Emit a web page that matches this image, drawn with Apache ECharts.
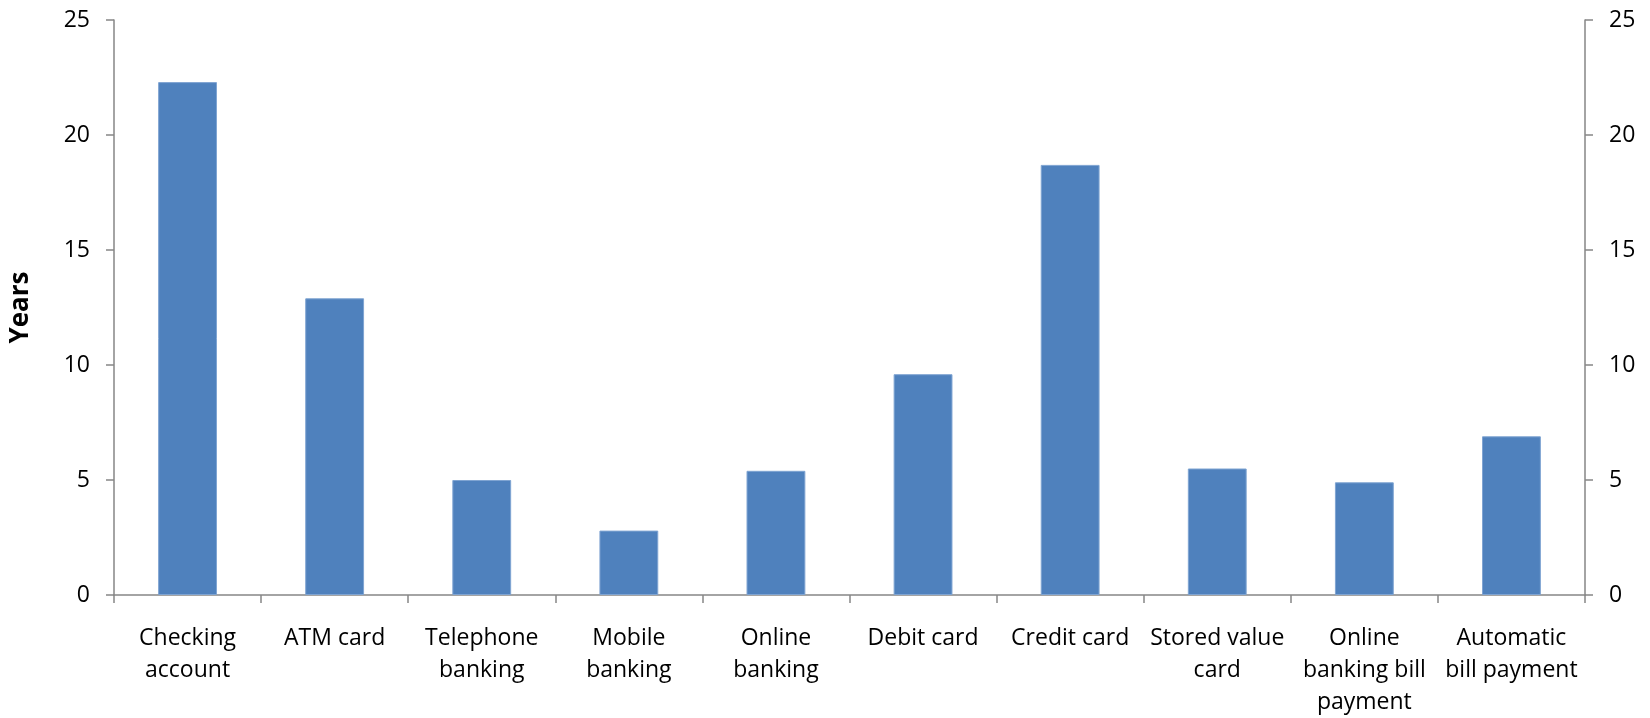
<!DOCTYPE html>
<html>
<head>
<meta charset="utf-8">
<script src="https://cdn.jsdelivr.net/npm/echarts@6/dist/echarts.min.js"></script>
<style>
  html, body { margin: 0; padding: 0; background: #ffffff; }
  #chart { width: 1650px; height: 718px; }
</style>
</head>
<body>
<div id="chart"></div>
<script>
// Product categories (line breaks are the wrapped axis labels)
const categories = [
  'Checking\naccount',
  'ATM card',
  'Telephone\nbanking',
  'Mobile\nbanking',
  'Online\nbanking',
  'Debit card',
  'Credit card',
  'Stored value\ncard',
  'Online\nbanking bill\npayment',
  'Automatic\nbill payment'
];

// Years of use per product
const years = [22.3, 12.9, 5.0, 2.8, 5.4, 9.6, 18.7, 5.5, 4.9, 6.9];

// Value axis range
const yMin = 0;
const yMax = 25;
const yStep = 5;

const axisGray = '#868686';
const fontFamily = '"Open Sans", "Liberation Sans", sans-serif';

const valueAxis = (position) => ({
  type: 'value',
  position: position,
  min: yMin,
  max: yMax,
  interval: yStep,
  splitLine: { show: false },
  axisLine: { show: true, lineStyle: { color: axisGray, width: 1.5 } },
  axisTick: { show: true, inside: false, length: 8, lineStyle: { color: axisGray, width: 1.5 } },
  axisLabel: { color: '#000000', fontSize: 23, fontFamily: fontFamily, margin: 24 }
});

const chart = echarts.init(document.getElementById('chart'), null, { renderer: 'canvas' });

chart.setOption({
  backgroundColor: '#ffffff',
  animation: false,
  grid: { left: 114, right: 65, top: 20, bottom: 119, containLabel: false },
  xAxis: {
    type: 'category',
    data: categories,
    boundaryGap: true,
    axisLine: { show: true, lineStyle: { color: axisGray, width: 1.5 } },
    axisTick: { show: true, alignWithLabel: false, length: 8, lineStyle: { color: axisGray, width: 1.5 } },
    axisLabel: {
      interval: 0,
      color: '#000000',
      fontSize: 23,
      lineHeight: 32,
      fontFamily: fontFamily,
      margin: 27,
      align: 'center'
    }
  },
  yAxis: [
    Object.assign(valueAxis('left'), {
      name: 'Years',
      nameLocation: 'middle',
      nameGap: 80,
      nameRotate: 90,
      nameTextStyle: { color: '#000000', fontSize: 26, fontWeight: 'bold', fontFamily: fontFamily }
    }),
    valueAxis('right')
  ],
  series: [{
    type: 'bar',
    data: years,
    yAxisIndex: 0,
    barWidth: '40%',
    itemStyle: { color: '#4F81BD', borderColor: '#7fa4d2', borderWidth: 1 }
  }]
});
</script>
</body>
</html>
